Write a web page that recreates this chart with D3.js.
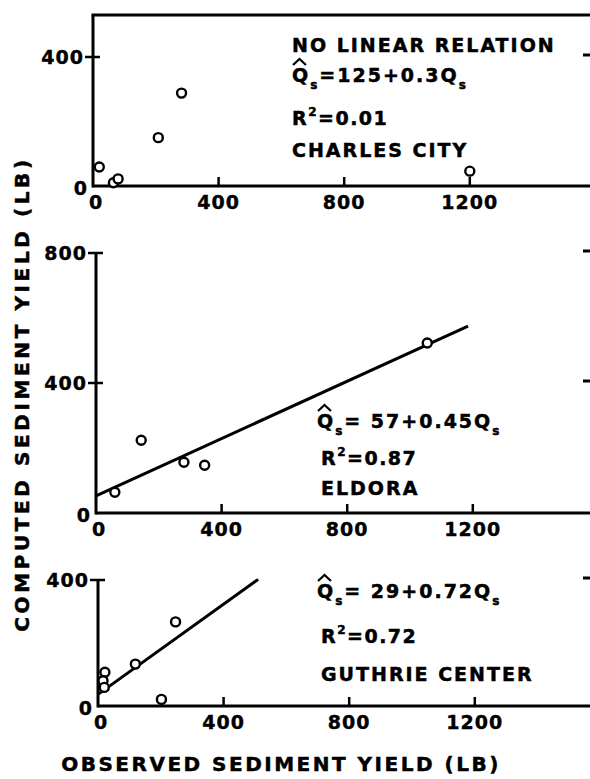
<!DOCTYPE html>
<html>
<head>
<meta charset="utf-8">
<script src="https://cdn.jsdelivr.net/npm/d3@7"></script>
<style>
  body { margin: 0; background: #fff; }
  svg text { font-family: "DejaVu Sans", sans-serif; font-weight: bold; fill: #000; }
</style>
</head>
<body>
<svg id="chart" width="590" height="779"></svg>
<script>
// valores (LB)
const stations = ["CHARLES CITY", "ELDORA", "GUTHRIE CENTER"];
const equations = ["=125+0.3Q", "= 57+0.45Q", "= 29+0.72Q"];
const rSquared = ["=0.01", "=0.87", "=0.72"];

const charlesObs = [20, 65, 80, 208, 282, 1200];
const charlesComp = [59, 10, 22, 150, 288, 46];

const eldoraObs = [60, 144, 280, 346, 1055];
const eldoraComp = [64, 224, 156, 147, 523];
const eldoraFitObs = [0, 1185];
const eldoraFitComp = [53, 575];

const guthrieObs = [22, 16, 20, 119, 202, 247];
const guthrieComp = [107, 80, 59, 133, 21, 267];
const guthrieFitObs = [0, 510];
const guthrieFitComp = [37, 402];

const xTicks = [0, 400, 800, 1200];
const yTicksTop = [0, 400];
const yTicksMid = [0, 400, 800];
const yTicksBot = [0, 400];

const svg = d3.select('#chart');

// posicion de cada panel en la pagina
const panels = [
  { obs: charlesObs, comp: charlesComp, fitObs: null, fitComp: null, yTicks: yTicksTop,
    left: 93, y0: 186, yRef: 57, refVal: 400, yMax: 530, topLine: true,
    textX: 292, textY: [52, 82, 125, 157], note: "NO LINEAR RELATION" },
  { obs: eldoraObs, comp: eldoraComp, fitObs: eldoraFitObs, fitComp: eldoraFitComp, yTicks: yTicksMid,
    left: 96, y0: 513, yRef: 253, refVal: 800, yMax: 800, topLine: false,
    textX: 317, textY: [null, 428, 465, 495], note: null },
  { obs: guthrieObs, comp: guthrieComp, fitObs: guthrieFitObs, fitComp: guthrieFitComp, yTicks: yTicksBot,
    left: 98, y0: 706, yRef: 580, refVal: 400, yMax: 400, topLine: false,
    textX: 317, textY: [null, 598, 643, 681], note: null }
];

const xPerUnit = 0.314;

panels.forEach((p, i) => {
  const g = svg.append('g');
  const x = d3.scaleLinear().domain([0, 1600]).range([p.left, p.left + 1600 * xPerUnit]);
  const y = d3.scaleLinear().domain([0, p.refVal]).range([p.y0, p.yRef]);

  // ejes
  g.append('line')
    .attr('x1', x(0)).attr('x2', 590)
    .attr('y1', y(0)).attr('y2', y(0))
    .attr('stroke', '#000').attr('stroke-width', 3);
  g.append('line')
    .attr('x1', x(0)).attr('x2', x(0))
    .attr('y1', y(0) + 1.5).attr('y2', y(p.yMax))
    .attr('stroke', '#000').attr('stroke-width', 3);
  if (p.topLine) {
    g.append('line')
      .attr('x1', x(0) - 1.5).attr('x2', 590)
      .attr('y1', y(p.yMax)).attr('y2', y(p.yMax))
      .attr('stroke', '#000').attr('stroke-width', 3);
  }

  // ticks del eje x hacia adentro
  g.selectAll('.xt').data(xTicks.filter(d => d > 0)).enter().append('line')
    .attr('x1', d => x(d)).attr('x2', d => x(d))
    .attr('y1', y(0)).attr('y2', y(0) - 9)
    .attr('stroke', '#000').attr('stroke-width', 2.5);
  g.selectAll('.xl').data(xTicks).enter().append('text')
    .attr('x', d => d === 0 ? x(d) + 3 : x(d))
    .attr('y', y(0) + 23)
    .attr('text-anchor', 'middle')
    .attr('font-size', 19)
    .attr('letter-spacing', 1)
    .attr('stroke', '#000').attr('stroke-width', 0.4)
    .text(d => d);

  // ticks del eje y
  g.selectAll('.yt').data(p.yTicks.filter(d => d > 0)).enter().append('line')
    .attr('x1', x(0) - 8).attr('x2', x(0) + 7)
    .attr('y1', d => y(d)).attr('y2', d => y(d))
    .attr('stroke', '#000').attr('stroke-width', 2.5);
  g.selectAll('.yl').data(p.yTicks).enter().append('text')
    .attr('x', d => d === 0 ? x(0) - 5 : x(0) - 9)
    .attr('y', d => d === 0 ? y(d) + 9 : y(d) + 7)
    .attr('text-anchor', 'end')
    .attr('font-size', 19)
    .attr('letter-spacing', 1)
    .attr('stroke', '#000').attr('stroke-width', 0.4)
    .text(d => d);

  // marcas del borde derecho
  g.selectAll('.rt').data(p.yTicks.filter(d => d > 0)).enter().append('line')
    .attr('x1', 583).attr('x2', 590)
    .attr('y1', d => y(d) - 2).attr('y2', d => y(d) - 2)
    .attr('stroke', '#000').attr('stroke-width', 3);

  // recta de ajuste
  if (p.fitObs) {
    g.append('line')
      .attr('x1', x(p.fitObs[0])).attr('y1', y(p.fitComp[0]))
      .attr('x2', x(p.fitObs[1])).attr('y2', y(p.fitComp[1]))
      .attr('stroke', '#000').attr('stroke-width', 3);
  }

  // puntos observados
  g.selectAll('circle').data(p.obs.map((d, k) => [d, p.comp[k]])).enter().append('circle')
    .attr('cx', d => x(d[0])).attr('cy', d => y(d[1]))
    .attr('r', 4.5)
    .attr('fill', '#fff')
    .attr('stroke', '#000').attr('stroke-width', 2.4);

  // textos
  const t = g.append('g').attr('font-size', 19).attr('letter-spacing', 2)
    .attr('stroke', '#000').attr('stroke-width', 0.5);
  if (p.note) {
    t.append('text').attr('x', p.textX).attr('y', p.textY[0]).text(p.note);
  }
  const eq = t.append('text').attr('x', p.textX).attr('y', p.textY[1]);
  eq.append('tspan').text('Q');
  eq.append('tspan').attr('font-size', 12).attr('dy', 7).text('s');
  eq.append('tspan').attr('dy', -7).text(equations[i]);
  eq.append('tspan').attr('font-size', 12).attr('dy', 7).text('s');
  // sombrero sobre la Q
  t.append('path')
    .attr('d', `M${p.textX + 1},${p.textY[1] - 17} L${p.textX + 7.5},${p.textY[1] - 23} L${p.textX + 14},${p.textY[1] - 17}`)
    .attr('fill', 'none').attr('stroke', '#000').attr('stroke-width', 2.2);

  const r2 = t.append('text').attr('x', p.textX + (i === 0 ? 0 : 4)).attr('y', p.textY[2])
    .attr('letter-spacing', 1.5);
  r2.append('tspan').text('R');
  r2.append('tspan').attr('font-size', 12).attr('dy', -9).text('2');
  r2.append('tspan').attr('dy', 9).text(rSquared[i]);

  t.append('text').attr('x', p.textX + (i === 0 ? 0 : 4)).attr('y', p.textY[3]).text(stations[i]);
});

// titulos de ejes
svg.append('text')
  .attr('x', 281).attr('y', 771)
  .attr('text-anchor', 'middle')
  .attr('font-size', 20)
  .attr('letter-spacing', 2.5)
  .attr('stroke', '#000').attr('stroke-width', 0.5)
  .text('OBSERVED SEDIMENT YIELD (LB)');

svg.append('text')
  .attr('transform', 'translate(29,394) rotate(-90)')
  .attr('text-anchor', 'middle')
  .attr('font-size', 20)
  .attr('letter-spacing', 3.6)
  .attr('stroke', '#000').attr('stroke-width', 0.5)
  .text('COMPUTED SEDIMENT YIELD (LB)');
</script>
</body>
</html>
